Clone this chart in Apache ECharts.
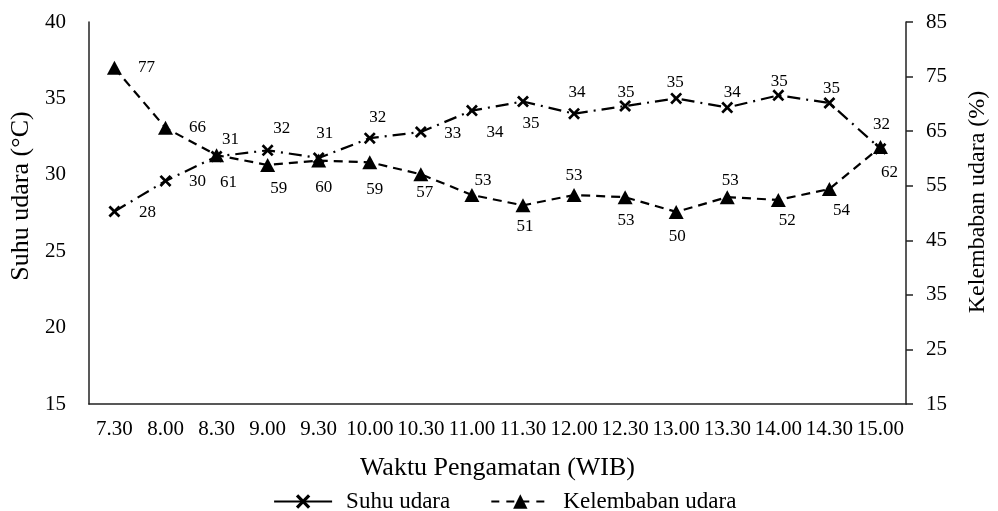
<!DOCTYPE html>
<html>
<head>
<meta charset="utf-8">
<script src="https://cdn.jsdelivr.net/npm/echarts@6/dist/echarts.min.js"></script>
<style>
html,body{margin:0;padding:0;background:#fff;}
#chart{width:998px;height:511px;}
</style>
</head>
<body>
<div id="chart"></div>
<script>
var categories = ['7.30','8.00','8.30','9.00','9.30','10.00','10.30','11.00','11.30','12.00','12.30','13.00','13.30','14.00','14.30','15.00'];
var suhuUdara = [27.6, 29.6, 31.2, 31.6, 31.1, 32.4, 32.8, 34.2, 34.8, 34.0, 34.5, 35.0, 34.4, 35.2, 34.7, 31.7];
var kelembabanUdara = [76.6, 65.6, 60.6, 58.8, 59.6, 59.3, 57.1, 53.3, 51.4, 53.3, 52.9, 50.2, 52.9, 52.4, 54.4, 62.1];
var leftTicks = [15, 40, 5];
var rightTicks = [15, 85, 10];

// label offsets (styling only)
var suhuLabelOffsets = [[33,1],[32,1],[14,-17],[14,-22],[6,-24],[8,-21],[32,2],[23,22],[8,22],[3,-21],[1,-14],[-1,-16],[5,-15],[1,-14],[2,-14],[1,-24]];
var kelLabelOffsets = [[32,0],[32,0],[12,27],[11,24],[5,27],[5,27],[4,18],[11,-14],[2,21],[0,-19],[1,23],[1,25],[3,-17],[9,21],[12,22],[9,26]];

var FONT = '"Liberation Serif", "Times New Roman", serif';
var crossPath = 'path://M0,1.6 L1.6,0 L5,3.4 L8.4,0 L10,1.6 L6.6,5 L10,8.4 L8.4,10 L5,6.6 L1.6,10 L0,8.4 L3.4,5 Z';

function buildData(values, offsets) {
  return values.map(function (v, i) {
    return {
      value: v,
      label: { show: true, position: 'inside', offset: offsets[i] }
    };
  });
}

var chart = echarts.init(document.getElementById('chart'));
chart.setOption({
  animation: false,
  backgroundColor: '#fff',
  textStyle: { fontFamily: FONT, color: '#000' },
  grid: { left: 88, right: 85, top: 22, bottom: 107, containLabel: false },
  legend: {
    top: 485,
    left: 268,
    itemWidth: 58,
    itemHeight: 18,
    itemGap: 40,
    textStyle: { fontFamily: FONT, fontSize: 23, color: '#000', padding: [0, 0, 0, 9] },
    data: [
      { name: 'Suhu udara', lineStyle: { type: 'solid', width: 2.2 } },
      { name: 'Kelembaban udara', lineStyle: { type: [8, 7], width: 2.2 } }
    ]
  },
  xAxis: {
    type: 'category',
    data: categories,
    boundaryGap: true,
    name: 'Waktu Pengamatan (WIB)',
    nameLocation: 'middle',
    nameGap: 51,
    nameTextStyle: { fontFamily: FONT, fontSize: 26, color: '#000' },
    axisLine: { lineStyle: { color: '#222', width: 1.5 } },
    axisTick: { show: false },
    axisLabel: { fontFamily: FONT, fontSize: 21, color: '#000', margin: 15, interval: 0 },
    splitLine: { show: false }
  },
  yAxis: [
    {
      type: 'value',
      min: leftTicks[0], max: leftTicks[1], interval: leftTicks[2],
      position: 'left',
      name: 'Suhu udara (°C)',
      nameLocation: 'middle',
      nameRotate: 90,
      nameGap: 53,
      nameTextStyle: { fontFamily: FONT, fontSize: 26, color: '#000', padding: [0, 0, 0, 34] },
      axisLine: { show: true, lineStyle: { color: '#222', width: 1.5 } },
      axisTick: { show: false },
      axisLabel: { fontFamily: FONT, fontSize: 21, color: '#000', margin: 23 },
      splitLine: { show: false }
    },
    {
      type: 'value',
      min: rightTicks[0], max: rightTicks[1], interval: rightTicks[2],
      position: 'right',
      name: 'Kelembaban udara (%)',
      nameLocation: 'middle',
      nameRotate: 90,
      nameGap: 60,
      nameTextStyle: { fontFamily: FONT, fontSize: 24, color: '#000', padding: [0, 0, 0, 22] },
      axisLine: { show: true, lineStyle: { color: '#222', width: 1.5 } },
      axisTick: { show: true, inside: false, length: 7, lineStyle: { color: '#222', width: 1.5 } },
      axisLabel: { fontFamily: FONT, fontSize: 21, color: '#000', margin: 20 },
      splitLine: { show: false }
    }
  ],
  series: [
    {
      name: 'Suhu udara',
      type: 'line',
      yAxisIndex: 0,
      data: buildData(suhuUdara, suhuLabelOffsets),
      symbol: crossPath,
      symbolSize: 12,
      itemStyle: { color: '#000' },
      lineStyle: { color: '#000', width: 2.2, type: [13, 6, 2, 6] },
      label: {
        fontFamily: FONT, fontSize: 17, color: '#000',
        formatter: function (p) { return Math.round(p.value); }
      },
      z: 3
    },
    {
      name: 'Kelembaban udara',
      type: 'line',
      yAxisIndex: 1,
      data: buildData(kelembabanUdara, kelLabelOffsets),
      symbol: 'triangle',
      symbolSize: [15, 14],
      itemStyle: { color: '#000' },
      lineStyle: { color: '#000', width: 2.2, type: [9, 6] },
      label: {
        fontFamily: FONT, fontSize: 17, color: '#000',
        formatter: function (p) { return Math.round(p.value); }
      },
      z: 2
    }
  ]
});
</script>
</body>
</html>
